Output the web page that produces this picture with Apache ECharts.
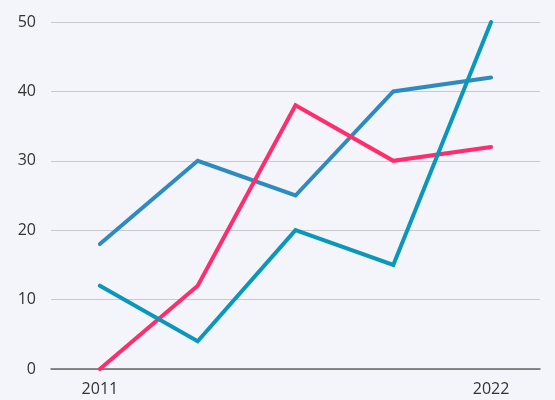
<!DOCTYPE html>
<html><head><meta charset="utf-8">
<script src="https://cdn.jsdelivr.net/npm/echarts@6/dist/echarts.min.js"></script>
<style>html,body{margin:0;padding:0;background:#f4f5fa;}#c{width:555px;height:400px;}</style>
</head><body><div id="c"></div>
<script>
var categories = ['2011', '2014', '2016', '2019', '2022'];
var tickLabels = ['2011', '', '', '', '2022'];
var seriesA = [18, 30, 25, 40, 42];
var seriesB = [0, 12, 38, 30, 32];
var seriesC = [12, 4, 20, 15, 50];
var yTicks = [0, 10, 20, 30, 40, 50];

var chart = echarts.init(document.getElementById('c'));
function line(data, color) {
  return { type: 'line', data: data, symbol: 'none', lineStyle: { width: 4, color: color, cap: 'round', join: 'miter' }, itemStyle: { color: color } };
}
chart.setOption({
  backgroundColor: '#f4f5fa',
  animation: false,
  grid: { left: 51, right: 15, top: 22, bottom: 31 },
  xAxis: {
    type: 'category', data: categories, boundaryGap: true,
    axisLine: { lineStyle: { color: '#666', width: 1.5 } },
    axisTick: { show: false },
    axisLabel: { interval: 0, formatter: function (v, i) { return tickLabels[i]; }, color: '#333', fontSize: 16, fontFamily: 'Open Sans', margin: 12 }
  },
  yAxis: {
    type: 'value', min: yTicks[0], max: yTicks[yTicks.length - 1], interval: 10,
    axisLine: { show: false }, axisTick: { show: false },
    splitLine: { lineStyle: { color: '#c8c9ce', width: 1 } },
    axisLabel: { color: '#333', fontSize: 16, fontFamily: 'Open Sans', margin: 15 }
  },
  series: [line(seriesA, '#2e8bc0'), line(seriesB, '#ff2d6b'), line(seriesC, '#0a97ba')]
});
</script></body></html>
